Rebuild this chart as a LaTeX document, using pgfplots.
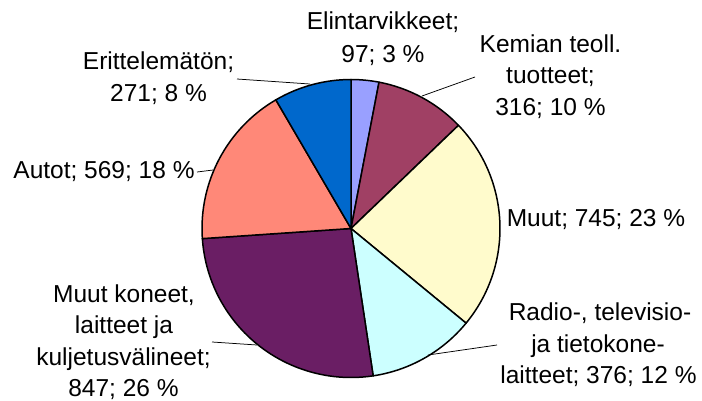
\documentclass[border=0pt]{standalone}
\usepackage{fontspec}
\setmainfont{Liberation Sans}
\usepackage{pgfplots}
\usepackage{pgfplotstable}
\pgfplotsset{compat=1.18}

% Excel palette, clockwise from 12 o'clock
\definecolor{slice0}{HTML}{99A0FF}
\definecolor{slice1}{HTML}{A04064}
\definecolor{slice2}{HTML}{FFFBCC}
\definecolor{slice3}{HTML}{CCFFFF}
\definecolor{slice4}{HTML}{6A1E64}
\definecolor{slice5}{HTML}{FF8878}
\definecolor{slice6}{HTML}{0068CC}

\pgfplotstableread{
value
97
316
745
376
847
569
271
}\piedata

\begin{document}
\begin{tikzpicture}[
    lab/.style={anchor=base, inner sep=0pt, font=\fontsize{24.5}{29}\selectfont},
    lead/.style={line width=0.75pt, black},
  ]
  % total and start/end angle of each slice
  \def\pietotal{0}
  \foreach \i in {0,...,6}{
    \pgfplotstablegetelem{\i}{value}\of\piedata
    \pgfmathsetmacro\tmpsum{\pietotal+\pgfplotsretval}
    \xdef\pietotal{\tmpsum}
  }
  \def\pierun{0}
  \foreach \i in {0,...,6}{
    \pgfplotstablegetelem{\i}{value}\of\piedata
    \pgfmathsetmacro\angA{90-(\pierun/\pietotal)*360}
    \pgfmathsetmacro\runB{\pierun+\pgfplotsretval}
    \pgfmathsetmacro\angB{90-(\runB/\pietotal)*360}
    \expandafter\xdef\csname pa\i\endcsname{\angA}
    \expandafter\xdef\csname pb\i\endcsname{\angB}
    \xdef\pierun{\runB}
  }
  \begin{axis}[
      width=702pt, height=400pt, scale only axis,
      xmin=0, xmax=702, ymin=0, ymax=400, y dir=reverse,
      hide axis, clip=false,
    ]
    \coordinate (bl) at (axis cs:0,400);
    \coordinate (tr) at (axis cs:702,0);
    \pgfplotsinvokeforeach{0,...,6}{
      \filldraw[fill=slice#1, draw=black, line width=1.5pt, line join=round]
        (axis cs:351,228.5)
        -- (axis cs:{351+149*cos(\csname pa#1\endcsname)},{228.5-149*sin(\csname pa#1\endcsname)})
        arc[start angle=\csname pa#1\endcsname, end angle=\csname pb#1\endcsname, radius=149pt]
        -- cycle;
    }
    % leader lines
    \draw[lead] (axis cs:237,79) -- (axis cs:310,84);
    \draw[lead] (axis cs:422,96) -- (axis cs:475,77);
    \draw[lead] (axis cs:197,172) -- (axis cs:213,170);
    \draw[lead] (axis cs:212,342) -- (axis cs:257,345);
    \draw[lead] (axis cs:428,355) -- (axis cs:497,345);
    % labels
    \node[lab] at (axis cs:383,29.5) {Elintarvikkeet;};
    \node[lab] at (axis cs:383,62) {97; 3 \%};
    \node[lab] at (axis cs:550.5,52) {Kemian teoll.};
    \node[lab] at (axis cs:550.5,83) {tuotteet;};
    \node[lab] at (axis cs:550.5,115) {316; 10 \%};
    \node[lab] at (axis cs:596,226) {Muut; 745; 23 \%};
    \node[lab] at (axis cs:600,320) {Radio-, televisio-};
    \node[lab] at (axis cs:598,352) {ja tietokone-};
    \node[lab] at (axis cs:598.5,383) {laitteet; 376; 12 \%};
    \node[lab] at (axis cs:124,302) {Muut koneet,};
    \node[lab] at (axis cs:124,333) {laitteet ja};
    \node[lab] at (axis cs:123.5,365) {kuljetusvälineet;};
    \node[lab] at (axis cs:123.5,396) {847; 26 \%};
    \node[lab] at (axis cs:104,178) {Autot; 569; 18 \%};
    \node[lab] at (axis cs:158.5,69) {Erittelemätön;};
    \node[lab] at (axis cs:158.5,101) {271; 8 \%};
  \end{axis}
  \pgfresetboundingbox
  \path (bl) rectangle (tr);
\end{tikzpicture}
\end{document}
